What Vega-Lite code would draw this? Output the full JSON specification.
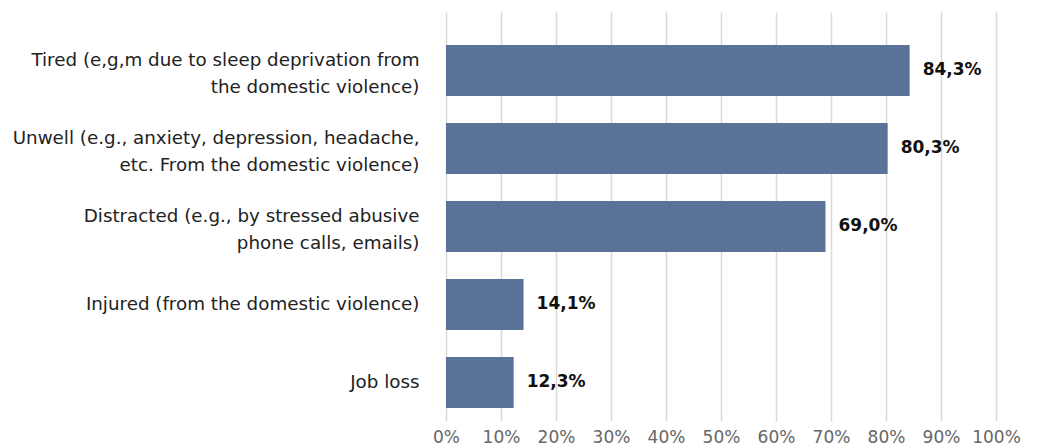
{
  "$schema": "https://vega.github.io/schema/vega-lite/v6.json",
  "autosize": "none",
  "width": 550,
  "height": 409,
  "padding": {"left": 446, "top": 12, "right": 42, "bottom": 25},
  "background": "white",
  "config": {
    "view": {"stroke": null},
    "locale": {"number": {"decimal": ",", "thousands": ".", "grouping": [3], "currency": ["", " €"]}},
    "font": "DejaVu Sans"
  },
  "data": {
    "values": [
      {"category": "Tired (e,g,m due to sleep deprivation from\nthe domestic violence)", "value": 0.843},
      {"category": "Unwell (e.g., anxiety, depression, headache,\netc. From the domestic violence)", "value": 0.803},
      {"category": "Distracted (e.g., by stressed abusive\nphone calls, emails)", "value": 0.69},
      {"category": "Injured (from the domestic violence)", "value": 0.141},
      {"category": "Job loss", "value": 0.123}
    ]
  },
  "encoding": {
    "y": {
      "field": "category",
      "type": "nominal",
      "sort": null,
      "title": null,
      "scale": {"paddingInner": 0.346, "paddingOuter": 0.295, "align": 0.717},
      "axis": {
        "ticks": false,
        "domain": false,
        "labelFontSize": 18.3,
        "labelColor": "#222222",
        "labelPadding": 27,
        "labelLineHeight": 27,
        "labelLimit": 500,
        "labelOffset": {"condition": {"test": "indexof(datum.value, '\\n') >= 0", "value": -9}, "value": 1},
        "labelExpr": "split(datum.value, '\\n')"
      }
    }
  },
  "layer": [
    {
      "mark": {"type": "bar", "color": "#5b7398"},
      "encoding": {
        "x": {
          "field": "value",
          "type": "quantitative",
          "scale": {"domain": [0, 1], "nice": false},
          "title": null,
          "axis": {
            "format": ".0%",
            "values": [0, 0.1, 0.2, 0.3, 0.4, 0.5, 0.6, 0.7, 0.8, 0.9, 1],
            "grid": true,
            "gridColor": "#d9d9d9",
            "gridWidth": 1.5,
            "ticks": false,
            "domain": false,
            "labelFontSize": 17,
            "labelColor": "#666666",
            "labelPadding": 8,
            "labelFlush": false
          }
        }
      }
    },
    {
      "mark": {"type": "text", "align": "left", "dx": 13, "fontSize": 17, "fontWeight": "bold", "color": "#111111"},
      "encoding": {
        "x": {"field": "value", "type": "quantitative"},
        "text": {"field": "value", "type": "quantitative", "format": ".1%"}
      }
    }
  ]
}
